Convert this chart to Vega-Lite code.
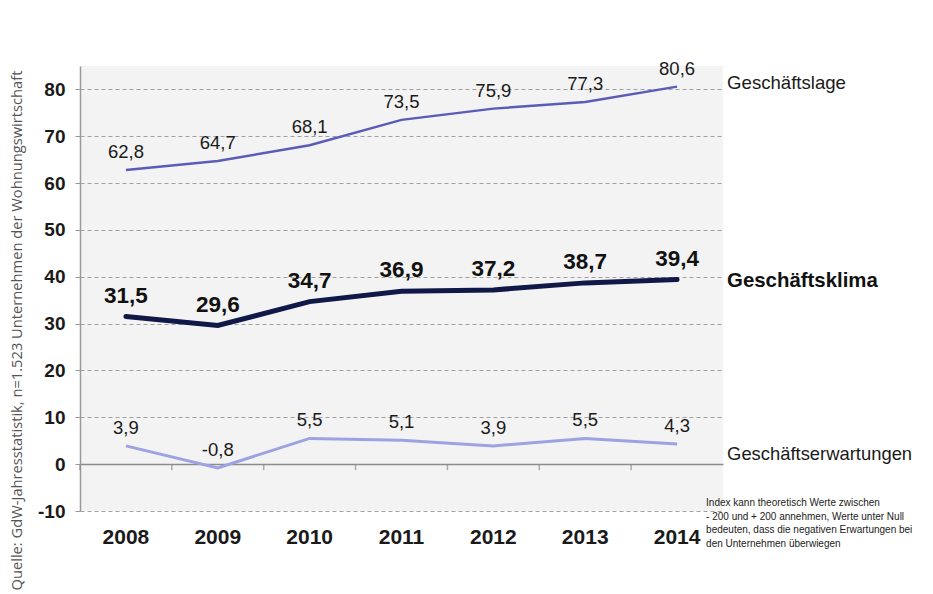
{
  "$schema": "https://vega.github.io/schema/vega-lite/v6.json",
  "width": 643,
  "height": 445,
  "autosize": "none",
  "padding": {"left": 80, "top": 66, "right": 210, "bottom": 83},
  "background": "#ffffff",
  "config": {
    "view": {"fill": "#f3f3f3", "stroke": null},
    "font": "Liberation Sans",
    "locale": {"number": {"decimal": ",", "thousands": ".", "grouping": [3], "currency": ["", " €"], "minus": "-"}}
  },
  "data": {
    "values": [
      {"year": "2008", "series": "Geschäftslage", "value": 62.8},
      {"year": "2009", "series": "Geschäftslage", "value": 64.7},
      {"year": "2010", "series": "Geschäftslage", "value": 68.1},
      {"year": "2011", "series": "Geschäftslage", "value": 73.5},
      {"year": "2012", "series": "Geschäftslage", "value": 75.9},
      {"year": "2013", "series": "Geschäftslage", "value": 77.3},
      {"year": "2014", "series": "Geschäftslage", "value": 80.6},
      {"year": "2008", "series": "Geschäftsklima", "value": 31.5},
      {"year": "2009", "series": "Geschäftsklima", "value": 29.6},
      {"year": "2010", "series": "Geschäftsklima", "value": 34.7},
      {"year": "2011", "series": "Geschäftsklima", "value": 36.9},
      {"year": "2012", "series": "Geschäftsklima", "value": 37.2},
      {"year": "2013", "series": "Geschäftsklima", "value": 38.7},
      {"year": "2014", "series": "Geschäftsklima", "value": 39.4},
      {"year": "2008", "series": "Geschäftserwartungen", "value": 3.9},
      {"year": "2009", "series": "Geschäftserwartungen", "value": -0.8},
      {"year": "2010", "series": "Geschäftserwartungen", "value": 5.5},
      {"year": "2011", "series": "Geschäftserwartungen", "value": 5.1},
      {"year": "2012", "series": "Geschäftserwartungen", "value": 3.9},
      {"year": "2013", "series": "Geschäftserwartungen", "value": 5.5},
      {"year": "2014", "series": "Geschäftserwartungen", "value": 4.3}
    ]
  },
  "encoding": {
    "x": {"field": "year", "type": "ordinal", "bandPosition": 0.5, "scale": {"type": "band", "paddingInner": 0, "paddingOuter": 0},
      "axis": {"orient": "bottom", "title": null, "domain": false, "ticks": false, "grid": false, "labelAngle": 0, "labelFontSize": 21, "labelFontWeight": "bold", "labelColor": "#1a1a1a", "labelPadding": 15}},
    "y": {
      "field": "value", "type": "quantitative",
      "scale": {"domain": [-10, 85], "nice": false, "zero": false},
      "axis": {
        "title": "Quelle: GdW-Jahresstatistik, n=1.523 Unternehmen der Wohnungswirtschaft",
        "titleFont": "Open Sans", "titleFontSize": 14.7, "titleFontWeight": "normal", "titleColor": "#555555",
        "titleAngle": 270, "titleAlign": "left", "titleBaseline": "middle", "titleX": -63, "titleY": 524,
        "values": [-10, 0, 10, 20, 30, 40, 50, 60, 70, 80],
        "labelFontSize": 19, "labelFontWeight": "bold", "labelColor": "#1a1a1a", "labelPadding": 10,
        "tickSize": 5, "tickColor": "#999999", "domainColor": "#999999", "domainWidth": 1.5,
        "grid": true,
        "gridColor": {"condition": {"test": "datum.value === 0", "value": "#8c8c8c"}, "value": "#a0a0a0"},
        "gridDash": {"condition": {"test": "datum.value === 0", "value": []}, "value": [4, 3]},
        "gridWidth": {"condition": {"test": "datum.value === 0", "value": 1.5}, "value": 1}
      }
    }
  },
  "layer": [
    {
      "transform": [{"filter": "datum.series === 'Geschäftslage'"}],
      "mark": {"type": "tick", "orient": "vertical", "size": 6, "thickness": 1.5, "color": "#8c8c8c", "yOffset": 3},
      "encoding": {"x": {"field": "year", "type": "ordinal", "bandPosition": 0}, "y": {"datum": 0}}
    },
    {
      "transform": [{"filter": "datum.series === 'Geschäftslage'"}],
      "mark": {"type": "line", "color": "#5a5cb8", "strokeWidth": 2.5}
    },
    {
      "transform": [{"filter": "datum.series === 'Geschäftserwartungen'"}],
      "mark": {"type": "line", "color": "#9ea2e2", "strokeWidth": 3}
    },
    {
      "transform": [{"filter": "datum.series === 'Geschäftsklima'"}],
      "mark": {"type": "line", "color": "#101848", "strokeWidth": 5, "strokeCap": "round"}
    },
    {
      "transform": [{"filter": "datum.series === 'Geschäftslage'"}],
      "mark": {"type": "text", "fontSize": 18.5, "color": "#1a1a1a", "baseline": "middle", "dy": -18},
      "encoding": {"text": {"field": "value", "type": "quantitative", "format": ".1f"}}
    },
    {
      "transform": [{"filter": "datum.series === 'Geschäftsklima'"}],
      "mark": {"type": "text", "fontSize": 22.5, "fontWeight": "bold", "color": "#111111", "baseline": "middle", "dy": -21},
      "encoding": {"text": {"field": "value", "type": "quantitative", "format": ".1f"}}
    },
    {
      "transform": [{"filter": "datum.series === 'Geschäftserwartungen'"}],
      "mark": {"type": "text", "fontSize": 18.5, "color": "#1a1a1a", "baseline": "middle", "dy": -18},
      "encoding": {"text": {"field": "value", "type": "quantitative", "format": ".1f"}}
    },
    {
      "transform": [{"filter": "datum.series === 'Geschäftslage' && datum.year === '2014'"}],
      "mark": {"type": "text", "fontSize": 18.6, "color": "#1a1a1a", "align": "left", "baseline": "middle", "dx": 50, "dy": -4},
      "encoding": {"text": {"field": "series"}}
    },
    {
      "transform": [{"filter": "datum.series === 'Geschäftsklima' && datum.year === '2014'"}],
      "mark": {"type": "text", "fontSize": 20.4, "fontWeight": "bold", "color": "#111111", "align": "left", "baseline": "middle", "dx": 50, "dy": 1},
      "encoding": {"text": {"field": "series"}}
    },
    {
      "transform": [{"filter": "datum.series === 'Geschäftserwartungen' && datum.year === '2014'"}],
      "mark": {"type": "text", "fontSize": 18.4, "color": "#1a1a1a", "align": "left", "baseline": "middle", "dx": 50, "dy": 10},
      "encoding": {"text": {"field": "series"}}
    },
    {
      "transform": [{"filter": "datum.series === 'Geschäftserwartungen' && datum.year === '2014'"}],
      "mark": {"type": "text", "fontSize": 10, "color": "#222222", "align": "left", "baseline": "top", "dx": 29, "dy": -13, "lineHeight": 13.5,
        "text": ["Index kann theoretisch Werte zwischen", "- 200 und + 200 annehmen, Werte unter Null", "bedeuten, dass die negativen Erwartungen bei", "den Unternehmen überwiegen"]},
      "encoding": {"y": {"datum": -10}}
    }
  ]
}
